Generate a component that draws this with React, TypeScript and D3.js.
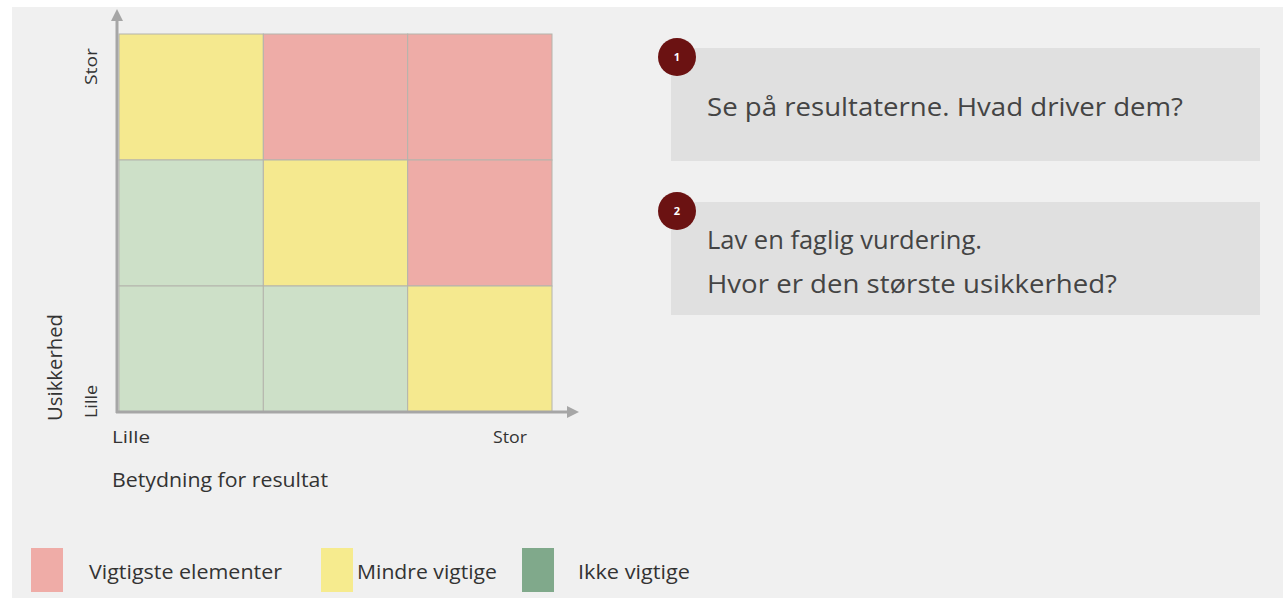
import React from "react";
import * as d3 from "d3";

const xLevels = ["lav", "mellem", "høj"];
const yLevels = ["høj", "mellem", "lav"]; // top to bottom
// importance class per cell, rows top->bottom, columns left->right
const cellClasses = [
  ["Mindre vigtige", "Vigtigste elementer", "Vigtigste elementer"],
  ["Ikke vigtige", "Mindre vigtige", "Vigtigste elementer"],
  ["Ikke vigtige", "Ikke vigtige", "Mindre vigtige"],
];
const legendItems = ["Vigtigste elementer", "Mindre vigtige", "Ikke vigtige"];
const cellColors = ["#eeaca7", "#f5e98f", "#cde0c8"];
const legendColors = ["#efaca7", "#f6eb8e", "#80a98b"];
const xTickLabels = ["Lille", "Stor"];
const yTickLabels = ["Lille", "Stor"];
const steps = [
  { n: "1", lines: ["Se på resultaterne. Hvad driver dem?"] },
  { n: "2", lines: ["Lav en faglig vurdering.", "Hvor er den største usikkerhed?"] },
];

const FONT = "'Open Sans', 'Noto Sans', sans-serif";
const SA = "spacingAndGlyphs";

export default function App() {
  const W = 1283, H = 602;
  const x = d3.scaleBand<string>().domain(xLevels).range([119, 552]).padding(0);
  const y = d3.scaleBand<string>().domain(yLevels).range([34, 412]).padding(0);
  const color = d3.scaleOrdinal<string, string>().domain(legendItems).range(cellColors);
  const legendColor = d3.scaleOrdinal<string, string>().domain(legendItems).range(legendColors);
  const legendX = [31, 321, 522];
  const legendTextX = [89, 357, 578];
  const legendTextLen = [193, 140, 112];
  const stepLens = [[476], [275, 410]];

  return (
    <svg width={W} height={H} style={{ position: "absolute", left: 0, top: 0 }}>
      <rect x={0} y={0} width={W} height={H} fill="#ffffff" />
      <rect x={12} y={7} width={W - 12} height={H - 11} fill="#f0f0f0" />
      <defs>
        <marker id="arr" viewBox="0 0 10 10" refX="5" refY="5" markerWidth="4" markerHeight="4" orient="auto-start-reverse">
          <path d="M0,0 L10,5 L0,10 z" fill="#a6a6a6" />
        </marker>
      </defs>
      {cellClasses.map((row, ri) =>
        row.map((cls, ci) => (
          <rect
            key={`${ri}-${ci}`}
            x={x(xLevels[ci])}
            y={y(yLevels[ri])}
            width={x.bandwidth()}
            height={y.bandwidth()}
            fill={color(cls)}
            stroke="#b4b4ac"
            strokeWidth={1}
          />
        ))
      )}
      {/* axes */}
      <line x1={117} y1={413} x2={117} y2={15} stroke="#a6a6a6" strokeWidth={3} markerEnd="url(#arr)" />
      <line x1={116} y1={412} x2={573} y2={412} stroke="#a6a6a6" strokeWidth={3} markerEnd="url(#arr)" />
      {/* y tick labels */}
      <text transform={`translate(97,418) rotate(-90)`} fontFamily={FONT} fontSize={16} fill="#333" textLength={33} lengthAdjust={SA}>{yTickLabels[0]}</text>
      <text transform={`translate(97,85) rotate(-90)`} fontFamily={FONT} fontSize={16} fill="#333" textLength={37} lengthAdjust={SA}>{yTickLabels[1]}</text>
      <text transform={`translate(62,421) rotate(-90)`} fontFamily={FONT} fontSize={20} fill="#333" textLength={107} lengthAdjust={SA}>Usikkerhed</text>
      {/* x tick labels */}
      <text x={112} y={443} fontFamily={FONT} fontSize={16} fill="#333" textLength={38} lengthAdjust={SA}>{xTickLabels[0]}</text>
      <text x={493} y={443} fontFamily={FONT} fontSize={16} fill="#333" textLength={34} lengthAdjust={SA}>{xTickLabels[1]}</text>
      <text x={112} y={487} fontFamily={FONT} fontSize={20} fill="#333" textLength={216} lengthAdjust={SA}>Betydning for resultat</text>
      {/* legend */}
      {legendItems.map((it, i) => (
        <g key={it}>
          <rect x={legendX[i]} y={548} width={32} height={44} fill={legendColor(it)} />
          <text x={legendTextX[i]} y={579} fontFamily={FONT} fontSize={20} fill="#333" textLength={legendTextLen[i]} lengthAdjust={SA}>{it}</text>
        </g>
      ))}
      {/* steps */}
      {steps.map((s, i) => {
        const top = 48 + i * 154;
        return (
          <g key={s.n}>
            <rect x={671} y={top} width={589} height={113} fill="#e0e0e0" />
            <circle cx={677} cy={top + 9} r={19} fill="#6b1212" />
            <text x={677} y={top + 13} textAnchor="middle" fontFamily={FONT} fontSize={11} fontWeight="bold" fill="#fff">{s.n}</text>
            {s.lines.map((l, li) => (
              <text key={li} x={707} y={s.lines.length === 1 ? top + 68 : top + 47 + li * 44} fontFamily={FONT} fontSize={26} fill="#444" textLength={stepLens[i][li]} lengthAdjust={SA}>{l}</text>
            ))}
          </g>
        );
      })}
    </svg>
  );
}
